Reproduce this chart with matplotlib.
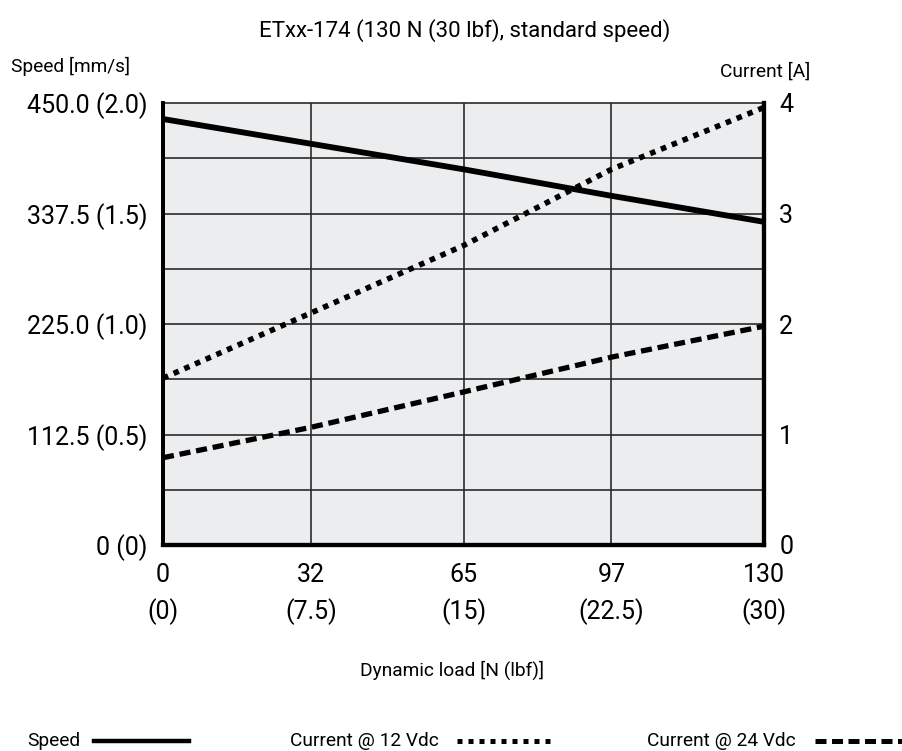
import matplotlib
matplotlib.use("Agg")
import matplotlib.pyplot as plt
from matplotlib.lines import Line2D

plt.rcParams['font.family'] = ['Roboto', 'DejaVu Sans']

# data
load_n = [0, 32, 65, 97, 130]
speed = [433.7, 408.5, 382.5, 355.5, 329.0]
current_12v = [1.51, 2.10, 2.71, 3.40, 3.96]
current_24v = [0.79, 1.065, 1.385, 1.70, 1.98]

xtick_vals = [0, 32, 65, 97, 130]
xtick_labels = ["0\n(0)", "32\n(7.5)", "65\n(15)", "97\n(22.5)", "130\n(30)"]
speed_ticks = [0, 112.5, 225.0, 337.5, 450.0]
speed_labels = ["0 (0)", "112.5 (0.5)", "225.0 (1.0)", "337.5 (1.5)", "450.0 (2.0)"]
current_ticks = [0, 1, 2, 3, 4]

fig = plt.figure(figsize=(9.03, 7.51), dpi=100)
ax = fig.add_axes([163/903, 1-545/751, (764-163)/903, (545-103)/751])
ax.set_facecolor("#ecedef")
ax.set_xlim(0, 130)
ax.set_ylim(0, 450)

# grid
for v in xtick_vals[1:-1]:
    ax.axvline(v, color="#2a2a2a", lw=1.2, zorder=1)
for k in range(1, 9):
    ax.axhline(450*k/8, color="#2a2a2a", lw=1.2, zorder=1, clip_on=False)

ax.plot(load_n, speed, color="black", lw=4.2, solid_capstyle="butt", zorder=3)

ax2 = ax.twinx()
ax2.set_ylim(0, 4)
ax2.plot(load_n, current_12v, color="black", lw=4.0, linestyle=(0, (1, 1.1)),
         dash_capstyle="butt", zorder=3)
ax2.plot(load_n, current_24v, color="black", lw=3.8, linestyle=(0, (2.1, 1.1)),
         dash_capstyle="butt", zorder=3)

for a in (ax, ax2):
    a.spines["top"].set_visible(False)
    a.spines["left"].set_linewidth(2.8)
    a.spines["right"].set_linewidth(3.0)
    a.spines["bottom"].set_linewidth(3.0)

ax.set_xticks(xtick_vals)
ax.set_xticklabels(xtick_labels, fontsize=18, linespacing=1.55)
ax.set_yticks(speed_ticks)
ax.set_yticklabels(speed_labels, fontsize=18)
ax2.set_yticks(current_ticks)
ax2.set_yticklabels([str(c) for c in current_ticks], fontsize=18)
ax.tick_params(axis="y", length=0, pad=11)
ax2.tick_params(axis="y", length=0, pad=11)
ax.tick_params(axis="x", length=0, pad=13)

fig.text(465/903, 1-31/751, "ETxx-174 (130 N (30 lbf), standard speed)",
         ha="center", va="center", fontsize=16)
fig.text(11/903, 1-66/751, "Speed [mm/s]", ha="left", va="center", fontsize=13.8)
fig.text(810/903, 1-72/751, "Current [A]", ha="right", va="center", fontsize=13.8)
fig.text(452/903, 1-670/751, "Dynamic load [N (lbf)]", ha="center", va="center", fontsize=13.8)

# legend row at the bottom
ly = 1-741/751
fig.text(27/903, ly, "Speed", ha="left", va="center", fontsize=13.8)
fig.add_artist(Line2D([94/903, 189/903], [ly, ly], color="black", lw=3.2))
fig.text(290/903, ly, "Current @ 12 Vdc", ha="left", va="center", fontsize=13.8)
fig.add_artist(Line2D([457/903, 552/903], [ly, ly], color="black", lw=3.6,
                      linestyle=(0, (1, 1.2)), dash_capstyle="butt"))
fig.text(647/903, ly, "Current @ 24 Vdc", ha="left", va="center", fontsize=13.8)
fig.add_artist(Line2D([815/903, 903/903], [ly, ly], color="black", lw=3.6,
                      linestyle=(0, (2.2, 1.1)), dash_capstyle="butt"))

fig.savefig("out.png", dpi=100)
